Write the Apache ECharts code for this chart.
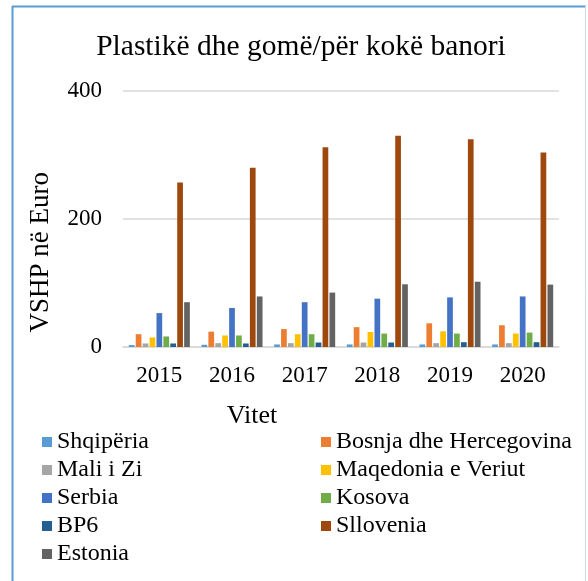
<!DOCTYPE html>
<html>
<head>
<meta charset="utf-8">
<script src="https://cdn.jsdelivr.net/npm/echarts@6/dist/echarts.min.js"></script>
<style>
html,body{margin:0;padding:0;background:#fff;}
#chart{width:588px;height:581px;}
</style>
</head>
<body>
<div id="chart"></div>
<script>
const categories = ['2015', '2016', '2017', '2018', '2019', '2020'];
const seriesNames = ['Shqipëria', 'Bosnja dhe Hercegovina', 'Mali i Zi', 'Maqedonia e Veriut', 'Serbia', 'Kosova', 'BP6', 'Sllovenia', 'Estonia'];
const shqiperia = [3, 3.5, 4, 4, 4, 4];
const bosnja = [20, 24, 28, 31, 37, 34];
const maliIZi = [5.5, 6, 6, 7, 6, 6];
const maqedonia = [15, 18, 20, 23.5, 24.5, 21];
const serbia = [53, 61, 70, 75.5, 77.5, 79];
const kosova = [16.5, 18, 20, 21, 21, 22.5];
const bp6 = [5.5, 5.5, 7, 7, 7.5, 7.5];
const sllovenia = [257, 280, 312, 330, 324.5, 304];
const estonia = [70, 79, 85, 98, 102, 97.5];
const yTicks = [0, 200, 400];

const values = [shqiperia, bosnja, maliIZi, maqedonia, serbia, kosova, bp6, sllovenia, estonia];
const colors = ['#5B9BD5', '#ED7D31', '#A5A5A5', '#FFC000', '#4472C4', '#70AD47', '#255E91', '#9E480E', '#636363'];
const FONT = 'Liberation Serif';

const legendTextStyle = {fontFamily: FONT, fontSize: 24, color: '#000', lineHeight: 28};

const chart = echarts.init(document.getElementById('chart'), null, {renderer: 'canvas'});
chart.setOption({
  animation: false,
  backgroundColor: '#fff',
  textStyle: {fontFamily: FONT},
  title: [{
    text: 'Plastikë dhe gomë/për kokë banori',
    left: 296, top: 27, textAlign: 'center',
    textStyle: {fontFamily: FONT, fontSize: 29.5, fontWeight: 'normal', color: '#000'}
  }, {
    text: 'Vitet',
    left: 247, top: 398, textAlign: 'center',
    textStyle: {fontFamily: FONT, fontSize: 26, fontWeight: 'normal', color: '#000'}
  }],
  legend: [{
    orient: 'vertical', left: 37, top: 423, itemGap: 0,
    itemWidth: 10, itemHeight: 10, icon: 'rect',
    data: [seriesNames[0], seriesNames[2], seriesNames[4], seriesNames[6], seriesNames[8]],
    textStyle: legendTextStyle
  }, {
    orient: 'vertical', left: 316, top: 423, itemGap: 0,
    itemWidth: 10, itemHeight: 10, icon: 'rect',
    data: [seriesNames[1], seriesNames[3], seriesNames[5], seriesNames[7]],
    textStyle: legendTextStyle
  }],
  grid: {left: 123, right: 29, top: 91, bottom: 234, containLabel: false},
  xAxis: {
    type: 'category', data: categories,
    axisLine: {lineStyle: {color: '#D9D9D9', width: 1.5}},
    axisTick: {show: false},
    axisLabel: {fontFamily: FONT, fontSize: 23, color: '#000', margin: 17}
  },
  yAxis: {
    type: 'value', min: yTicks[0], max: yTicks[yTicks.length - 1], interval: 200,
    axisLine: {show: false}, axisTick: {show: false},
    splitLine: {lineStyle: {color: '#D9D9D9', width: 1.5}},
    axisLabel: {fontFamily: FONT, fontSize: 23, color: '#000', margin: 21}
  },
  series: seriesNames.map((n, i) => ({
    name: n, type: 'bar', data: values[i],
    itemStyle: {color: colors[i]},
    barGap: '21%', barCategoryGap: '16%'
  })),
  graphic: [
    {type: 'text', left: 27, top: 172, rotation: Math.PI / 2,
      style: {text: 'VSHP në Euro', font: "27px 'Liberation Serif'", fill: '#000'}},
    {type: 'line', shape: {x1: 12.5, y1: 6, x2: 12.5, y2: 581}, style: {stroke: '#5B9BD5', lineWidth: 2}},
    {type: 'line', shape: {x1: 12, y1: 6.5, x2: 586, y2: 6.5}, style: {stroke: '#5B9BD5', lineWidth: 2}},
    {type: 'line', shape: {x1: 585.5, y1: 6, x2: 585.5, y2: 581}, style: {stroke: '#C9DCEF', lineWidth: 1}}
  ]
});
</script>
</body>
</html>
